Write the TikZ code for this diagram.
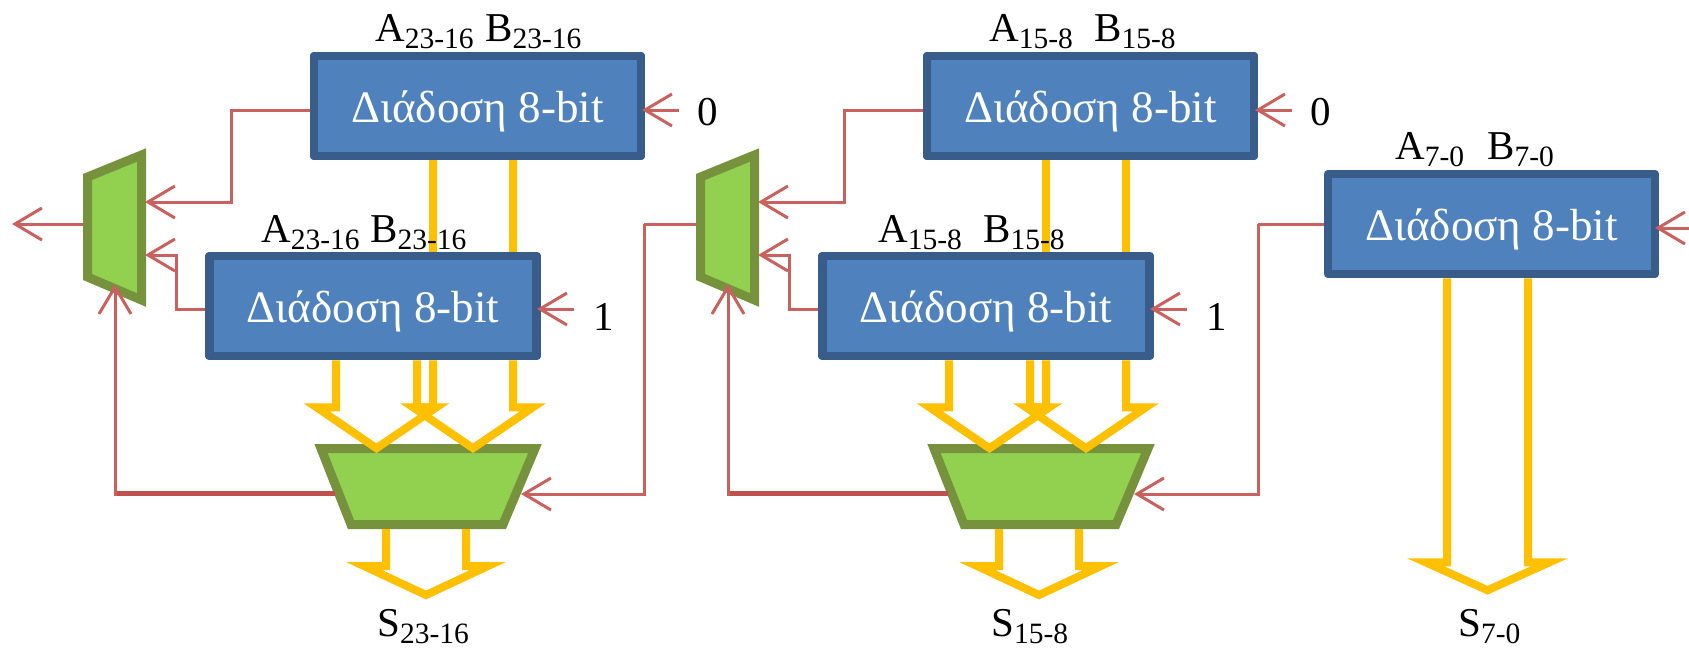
\documentclass[tikz,border=0pt]{standalone}
\usepackage{fontspec}
\setmainfont{Liberation Serif}
\usetikzlibrary{arrows.meta}
\definecolor{boxfill}{HTML}{4F81BD}
\definecolor{boxline}{HTML}{385D8A}
\definecolor{muxfill}{HTML}{92D050}
\definecolor{muxline}{HTML}{76923C}
\definecolor{busy}{HTML}{FFC000}
\definecolor{wire}{HTML}{C9615F}
\definecolor{wiredark}{HTML}{C0504D}
\newcommand\lab[2]{{\fontsize{41}{41}\selectfont #1}\raisebox{-7pt}{\fontsize{29.5}{29.5}\selectfont #2}}
\newcommand\adtext{\raisebox{-16pt}[0pt][0pt]{Διάδοση 8-bit}}
\newcommand\busarrow[6]{% anchor, x left, x right, wing drop, tip drop, half wing
  \pgfmathsetmacro\cx{(#2+#3)/2}
  \draw[bus] ([xshift=#2 pt]#1) -- ([xshift=#2 pt,yshift=-#4 pt]#1) -- ([xshift=\cx pt-#6 pt,yshift=-#4 pt]#1)
    -- ([xshift=\cx pt,yshift=-#4 pt-#5 pt]#1) -- ([xshift=\cx pt+#6 pt,yshift=-#4 pt]#1)
    -- ([xshift=#3 pt,yshift=-#4 pt]#1) -- ([xshift=#3 pt]#1);}
\tikzset{
  x=1pt,y=-1pt,
  adder/.style={draw=boxline,fill=boxfill,line width=8.5pt,line join=round,minimum width=327pt,minimum height=100pt,inner sep=0pt,text=white,font=\fontsize{45}{45}\selectfont},
  mux/.style={draw=muxline,fill=muxfill,line width=9pt,line join=miter},
  bus/.style={draw=busy,line width=8pt,line join=miter,miter limit=20},
  wirethin/.style={draw=wire,line width=3pt},
  wirethick/.style={draw=wiredark,line width=5pt},
  tipped/.style={wirethin,-{Straight Barb[length=27pt,width=32pt,line width=3pt]}},
  txt/.style={inner sep=0pt,anchor=base west},
  num/.style={inner sep=0pt,anchor=base west,font=\fontsize{41}{41}\selectfont},
}
\newcommand\stage[9]{%
 \begin{scope}[xshift=#1pt,name prefix=#2-]
  \node[adder] (up) at (477.5,106) {};
  \node[adder] (lo) at (373,306) {};
  % buses between the two adders
  \draw[bus] ([xshift=-44.5pt]up.south) -- ([xshift=60pt]lo.north);
  \draw[bus] ([xshift=35.5pt]up.south) -- ([xshift=140pt]lo.north);
  \node[adder] at (up) {\adtext};
  \node[adder] at (lo) {\adtext};
  % wide mux
  \draw[mux] (321,448.5) -- (535,448.5) -- (503,524.5) -- (351,524.5) -- cycle;
  \coordinate (mb) at (428,529);
  \coordinate (mo) at (335,493);
  \coordinate (mi) at (#8,494);
  % side mux
  \draw[mux] (87.5,177) -- (141.5,155) -- (141.5,300) -- (87.5,277) -- cycle;
  \coordinate (s1) at (145,202);
  \coordinate (s2) at (145,255);
  \coordinate (s3) at (115,284);
  \coordinate (so) at (83,224);
  \coordinate (c1) at (231,110);
  \coordinate (c2) at (176,309);
  \coordinate (c3) at (115,493);
  \node[num] (zero) at (697,125) {0};
  \node[num] (one) at (593,330) {1};
  \coordinate (zt) at (642,110);
  \coordinate (ot) at (537,309);
  \coordinate (zs) at (679,110);
  \coordinate (os) at (574,309);
  \draw[tipped] ([yshift=-4pt]up.west) -- (c1) |- (s1);
  \draw[tipped] ([yshift=-3pt]lo.west) -- (c2) |- (s2);
  \draw[tipped] (zs) -- (zt);
  \draw[tipped] (os) -- (ot);
  \draw[wirethick] (mo) -- ([xshift=-1.5pt]c3);
  \draw[tipped] ([yshift=-2.5pt]c3) -- (s3);
  % buses into and out of wide mux
  \busarrow{lo.south}{-37}{44}{47}{41}{60}
  \busarrow{lo.south}{60}{140}{47}{41}{60}
  \busarrow{mb}{-42}{38}{37}{29}{62}
  \node[txt] (a1) at (#3,41) {\lab{A}{#5}};
  \node[txt] (b1) at (#4,41) {\lab{B}{#5}};
  \node[txt] (a2) at (#6,242) {\lab{A}{#5}};
  \node[txt] (b2) at (#7,242) {\lab{B}{#5}};
  \node[txt] (s) at (#9,636) {\lab{S}{#5}};
 \end{scope}}
\begin{document}
\begin{tikzpicture}
\useasboundingbox[fill=white] (0,0) rectangle (1689,649);
\stage{0}{p}{375}{485}{23-16}{261}{370}{521}{377}
\stage{613}{q}{376}{481}{15-8}{265}{370}{521}{378}
% third stage
\node[adder] (r) at (1491.5,224) {\adtext};
\coordinate (rs) at (1689,228);
\coordinate (rt) at (1655,228);
\draw[tipped] (rs) -- (rt);
\busarrow{r.south}{-44.5}{36.5}{284}{28}{62}
\node[txt] (ra) at (1395,159) {\lab{A}{7-0}};
\node[txt] (rb) at (1487,159) {\lab{B}{7-0}};
\node[txt] (rS) at (1458,636) {\lab{S}{7-0}};
% links between stages
\coordinate (o1) at (12,224);
\draw[tipped] (p-so) -- (o1);
\coordinate (k1) at (644,224);
\coordinate (k2) at (1258,224);
\draw[wirethin] (q-so) -- (k1);
\draw[tipped] (k1) |- (p-mi);
\draw[wirethin] (r.west) -- (k2);
\draw[tipped] (k2) |- (q-mi);
\end{tikzpicture}
\end{document}
